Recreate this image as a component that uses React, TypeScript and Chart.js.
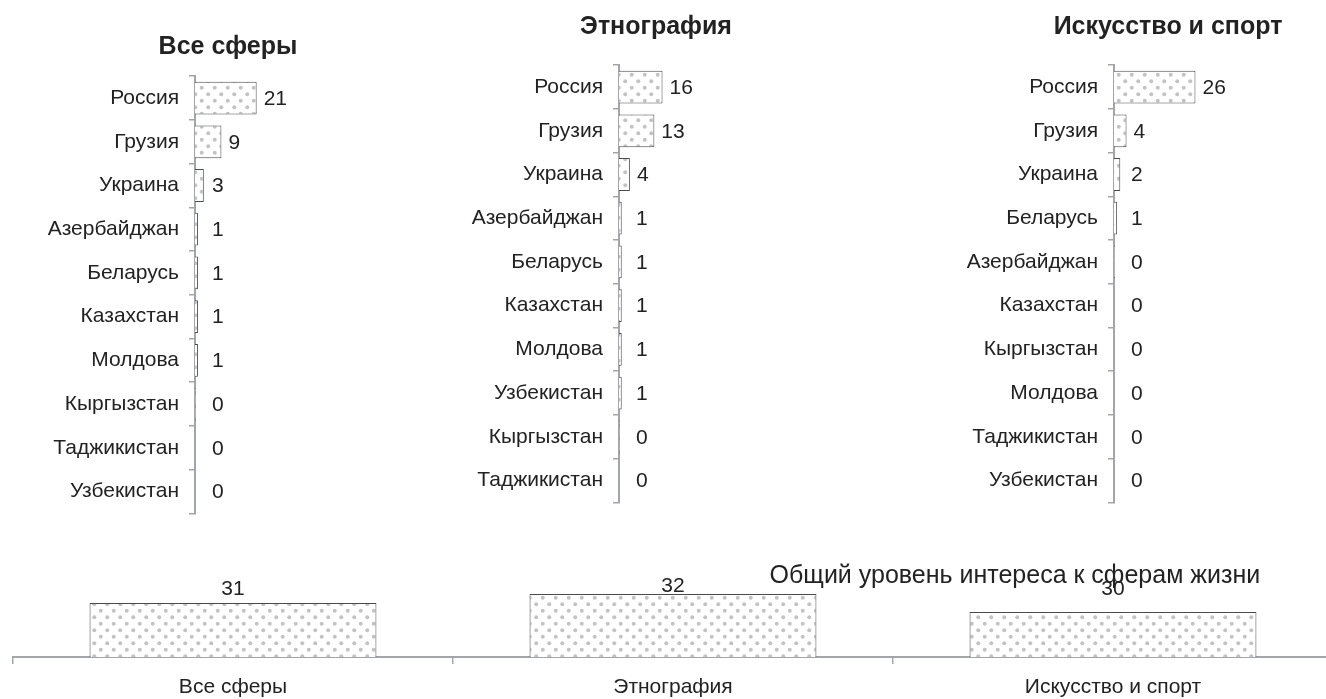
import React, { useEffect, useRef } from 'react';
import { Chart, registerables } from 'chart.js';
Chart.register(...registerables);

// ---------- data ----------
const allTitle = 'Все сферы';
const allCategories = ['Россия', 'Грузия', 'Украина', 'Азербайджан', 'Беларусь', 'Казахстан', 'Молдова', 'Кыргызстан', 'Таджикистан', 'Узбекистан'];
const allValues = [21, 9, 3, 1, 1, 1, 1, 0.3, 0, 0];

const ethnoTitle = 'Этнография';
const ethnoCategories = ['Россия', 'Грузия', 'Украина', 'Азербайджан', 'Беларусь', 'Казахстан', 'Молдова', 'Узбекистан', 'Кыргызстан', 'Таджикистан'];
const ethnoValues = [16, 13, 4, 1, 1, 1, 1, 1, 0.3, 0];

const artTitle = 'Искусство и спорт';
const artCategories = ['Россия', 'Грузия', 'Украина', 'Беларусь', 'Азербайджан', 'Казахстан', 'Кыргызстан', 'Молдова', 'Таджикистан', 'Узбекистан'];
const artValues = [26, 4, 2, 1, 0.3, 0, 0, 0, 0, 0];

const totalTitle = 'Общий уровень интереса к сферам жизни';
const totalCategories = ['Все сферы', 'Этнография', 'Искусство и спорт'];
const totalValues = [31, 32, 30];

// ---------- styles ----------
const FAMILY = '"Liberation Sans", Arial, Helvetica, sans-serif';
const TEXT = '#222222';
const AXIS = '#a2a6aa';
const EDGE = '#4a4a4a';
const LABEL_SIZE = 21;
const TITLE_SIZE = 25;

function makePattern(): CanvasPattern | string {
  const c = document.createElement('canvas');
  c.width = 13;
  c.height = 13;
  const g = c.getContext('2d');
  if (!g) return '#dddddd';
  g.fillStyle = '#ffffff';
  g.fillRect(0, 0, 13, 13);
  g.fillStyle = '#c3c3c7';
  [[3.25, 3.25], [9.75, 9.75]].forEach(([x, y]) => {
    g.beginPath();
    g.arc(x, y, 2, 0, Math.PI * 2);
    g.fill();
  });
  return g.createPattern(c, 'repeat') || '#dddddd';
}

const hLabelPlugin = {
  id: 'hLabels',
  afterDatasetsDraw(chart: any) {
    const ctx = chart.ctx;
    const meta = chart.getDatasetMeta(0);
    const data = chart.data.datasets[0].data as number[];
    ctx.save();
    ctx.font = `${LABEL_SIZE}px ${FAMILY}`;
    ctx.fillStyle = TEXT;
    ctx.textAlign = 'left';
    ctx.textBaseline = 'middle';
    meta.data.forEach((el: any, i: number) => {
      const x = Math.max(el.x + 7, chart.chartArea.left + 17);
      ctx.fillText(String(Math.round(data[i])), x, el.y + 1);
    });
    ctx.restore();
  },
};

const vLabelPlugin = {
  id: 'vLabels',
  afterDatasetsDraw(chart: any) {
    const ctx = chart.ctx;
    const meta = chart.getDatasetMeta(0);
    const data = chart.data.datasets[0].data as number[];
    const cap = chart.chartArea.bottom - 57;
    ctx.save();
    ctx.font = `${LABEL_SIZE}px ${FAMILY}`;
    ctx.fillStyle = TEXT;
    ctx.textAlign = 'center';
    ctx.textBaseline = 'bottom';
    meta.data.forEach((el: any, i: number) => {
      ctx.fillText(String(data[i]), el.x, Math.min(cap, el.y + 3));
    });
    ctx.restore();
  },
};

const freeTitlePlugin = {
  id: 'freeTitle',
  afterDraw(chart: any) {
    const { ctx, chartArea } = chart;
    ctx.save();
    ctx.font = `25px ${FAMILY}`;
    ctx.fillStyle = TEXT;
    ctx.textAlign = 'center';
    ctx.textBaseline = 'middle';
    ctx.fillText(totalTitle, chartArea.left + (chartArea.right - chartArea.left) * 0.759, chartArea.top + 54);
    ctx.restore();
  },
};

type HSpec = {
  title: string;
  labels: string[];
  values: number[];
  xMax: number;
  axisWidth: number;
  padTop: number;
  padBottom: number;
};

function hConfig(s: HSpec, pattern: CanvasPattern | string): any {
  return {
    type: 'bar',
    data: {
      labels: s.labels,
      datasets: [
        {
          data: s.values,
          backgroundColor: pattern,
          borderColor: EDGE,
          borderWidth: 1,
          borderSkipped: 'start',
          barPercentage: 0.75,
          categoryPercentage: 1,
        },
      ],
    },
    options: {
      indexAxis: 'y',
      responsive: false,
      animation: false,
      layout: { autoPadding: false, padding: 0 },
      plugins: {
        legend: { display: false },
        tooltip: { enabled: false },
        title: {
          display: true,
          text: s.title,
          color: TEXT,
          font: { family: FAMILY, size: TITLE_SIZE, weight: 'bold', lineHeight: 1.2 },
          padding: { top: s.padTop, bottom: s.padBottom },
        },
      },
      scales: {
        x: { display: false, min: 0, max: s.xMax },
        y: {
          afterFit: (sc: any) => {
            sc.width = s.axisWidth;
          },
          border: { display: true, color: AXIS, width: 2 },
          grid: {
            display: true,
            offset: true,
            drawOnChartArea: false,
            drawTicks: true,
            tickLength: 6,
            color: AXIS,
            lineWidth: 1.5,
          },
          ticks: { color: TEXT, font: { family: FAMILY, size: LABEL_SIZE }, padding: 10 },
        },
      },
    },
    plugins: [hLabelPlugin],
  };
}

function vConfig(pattern: CanvasPattern | string): any {
  return {
    type: 'bar',
    data: {
      labels: totalCategories,
      datasets: [
        {
          data: totalValues,
          backgroundColor: pattern,
          borderColor: EDGE,
          borderWidth: 1,
          borderSkipped: 'start',
          barPercentage: 0.652,
          categoryPercentage: 1,
        },
      ],
    },
    options: {
      responsive: false,
      animation: false,
      layout: { autoPadding: false, padding: { left: 13, right: 7, top: 12, bottom: 0 } },
      plugins: {
        legend: { display: false },
        tooltip: { enabled: false },
        title: { display: false },
      },
      scales: {
        y: { display: false, min: 25, max: 40 },
        x: {
          afterFit: (sc: any) => {
            sc.height = 42;
          },
          border: { display: true, color: AXIS, width: 2 },
          grid: {
            display: true,
            offset: true,
            drawOnChartArea: false,
            drawTicks: true,
            tickLength: 7,
            color: AXIS,
            lineWidth: 1.5,
          },
          ticks: { color: TEXT, font: { family: FAMILY, size: LABEL_SIZE }, padding: 11 },
        },
      },
    },
    plugins: [vLabelPlugin, freeTitlePlugin],
  };
}

const boxes = {
  all: { left: 10, top: 0, width: 436, height: 536 },
  ethno: { left: 440, top: 0, width: 432, height: 525 },
  art: { left: 940, top: 0, width: 456, height: 525 },
  total: { left: 0, top: 510, width: 1340, height: 189 },
};

export default function App() {
  const r1 = useRef<HTMLCanvasElement>(null);
  const r2 = useRef<HTMLCanvasElement>(null);
  const r3 = useRef<HTMLCanvasElement>(null);
  const r4 = useRef<HTMLCanvasElement>(null);

  useEffect(() => {
    const pattern = makePattern();
    const charts: Chart[] = [];
    if (r4.current) charts.push(new Chart(r4.current, vConfig(pattern)));
    if (r1.current)
      charts.push(
        new Chart(
          r1.current,
          hConfig(
            { title: allTitle, labels: allCategories, values: allValues, xMax: 85.5, axisWidth: 185, padTop: 32, padBottom: 14.2 },
            pattern
          )
        )
      );
    if (r2.current)
      charts.push(
        new Chart(
          r2.current,
          hConfig(
            { title: ethnoTitle, labels: ethnoCategories, values: ethnoValues, xMax: 93, axisWidth: 179, padTop: 12, padBottom: 23.2 },
            pattern
          )
        )
      );
    if (r3.current)
      charts.push(
        new Chart(
          r3.current,
          hConfig(
            { title: artTitle, labels: artCategories, values: artValues, xMax: 90, axisWidth: 174, padTop: 12, padBottom: 23.2 },
            pattern
          )
        )
      );
    return () => charts.forEach((c) => c.destroy());
  }, []);

  const cs = (b: { left: number; top: number; width: number; height: number }): React.CSSProperties => ({
    position: 'absolute',
    left: b.left,
    top: b.top,
    width: b.width,
    height: b.height,
    display: 'block',
  });

  return (
    <div style={{ position: 'fixed', left: 0, top: 0, width: 1326, height: 699, overflow: 'hidden', background: '#ffffff' }}>
      <canvas ref={r4} width={boxes.total.width} height={boxes.total.height} style={cs(boxes.total)} />
      <canvas ref={r1} width={boxes.all.width} height={boxes.all.height} style={cs(boxes.all)} />
      <canvas ref={r2} width={boxes.ethno.width} height={boxes.ethno.height} style={cs(boxes.ethno)} />
      <canvas ref={r3} width={boxes.art.width} height={boxes.art.height} style={cs(boxes.art)} />
    </div>
  );
}
